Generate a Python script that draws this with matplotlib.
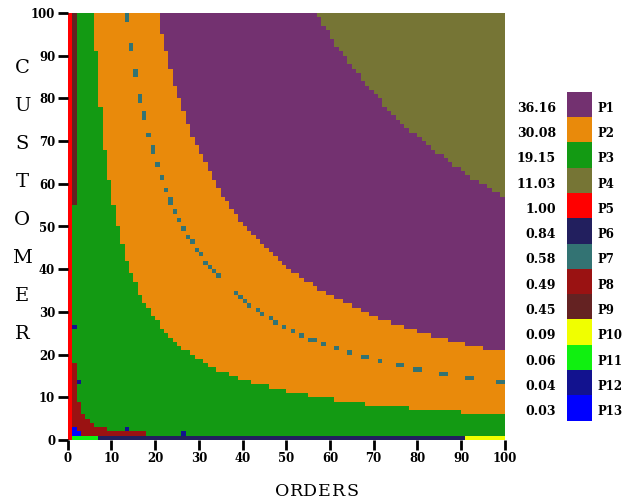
# -*- coding: utf-8 -*-
"""Mapa de planos por ORDERS x CUSTOMER"""

import numpy as np
import matplotlib
matplotlib.use("Agg")
import matplotlib.pyplot as plt
from matplotlib.colors import ListedColormap, BoundaryNorm

# =====================================================
# DADOS
# =====================================================

PLANS = ["P1", "P2", "P3", "P4", "P5", "P6", "P7",
         "P8", "P9", "P10", "P11", "P12", "P13"]
PLAN_VALUES = ["36.16", "30.08", "19.15", "11.03", "1.00", "0.84", "0.58",
               "0.49", "0.45", "0.09", "0.06", "0.04", "0.03"]
PLAN_COLORS = ["#733170", "#E98A0B", "#139A13", "#767535", "#FF0000",
               "#221F5E", "#337373", "#9A1212", "#642222", "#F0FF00",
               "#10F010", "#12128F", "#0000FF"]

X_TICKS = list(range(0, 101, 10))
Y_TICKS = list(range(0, 101, 10))

# P3 -> P2 : coluna inicial e linha onde o P2 comeca
P2_START_COLS = [6, 7, 8, 9, 10, 11, 12, 13, 14, 15, 16, 17, 18, 19, 20,
                 21, 22, 23, 24, 25, 26, 28, 29, 31, 32, 34, 37, 39, 42,
                 46, 50, 55, 61, 68, 78, 90]
P2_START_ROWS = [91, 78, 68, 61, 55, 50, 46, 42, 39, 37, 34, 32, 31, 29, 28,
                 26, 25, 24, 23, 22, 21, 20, 19, 18, 17, 16, 15, 14, 13,
                 12, 11, 10, 9, 8, 7, 6]

# P2 -> P1
P1_START_COLS = [21, 22, 23, 24, 25, 26, 27, 28, 29, 30, 31, 32, 33, 34, 35,
                 36, 37, 38, 39, 40, 41, 42, 43, 44, 45, 46, 47, 48, 49, 50,
                 51, 53, 54, 56, 57, 59, 61, 63, 65, 67, 69, 71, 74, 77, 80,
                 83, 87, 91, 95]
P1_START_ROWS = [95, 91, 87, 83, 80, 77, 74, 71, 69, 67, 65, 63, 61, 59, 57,
                 56, 54, 53, 51, 50, 49, 48, 47, 46, 45, 44, 43, 42, 41, 40,
                 39, 38, 37, 36, 35, 34, 33, 32, 31, 30, 29, 28, 27, 26, 25,
                 24, 23, 22, 21]

# P1 -> P4
P4_START_COLS = [57, 58, 59, 60, 61, 62, 63, 64, 65, 66, 67, 68, 69, 70, 71,
                 72, 73, 74, 75, 76, 77, 78, 80, 81, 82, 83, 84, 86, 87, 88,
                 90, 91, 92, 94, 96, 97, 99]
P4_START_ROWS = [99, 97, 96, 94, 92, 91, 90, 88, 87, 86, 84, 83, 82, 81, 80,
                 78, 77, 76, 75, 74, 73, 72, 71, 70, 69, 68, 67, 66, 65, 64,
                 63, 62, 61, 60, 59, 58, 57]

# celulas isoladas do P7
P7_COLS = [13, 13, 14, 14, 15, 15, 16, 16, 17, 17, 18, 19, 19, 20, 21, 22,
           23, 23, 24, 25, 26, 27, 28, 29, 30, 31, 32, 33, 34, 38, 39, 40,
           41, 43, 44, 46, 47, 49, 51, 53, 55, 56, 58, 61, 64, 67, 68, 71,
           75, 76, 79, 80, 85, 86, 91, 92, 98, 99]
P7_ROWS = [98, 99, 91, 92, 85, 86, 79, 80, 75, 76, 71, 67, 68, 64, 61, 58,
           55, 56, 53, 51, 49, 47, 46, 44, 43, 41, 40, 39, 38, 34, 33, 32,
           31, 30, 29, 28, 27, 26, 25, 24, 23, 23, 22, 21, 20, 19, 19, 18,
           17, 17, 16, 16, 15, 15, 14, 14, 13, 13]

# coluna 1: P9 a partir desta linha
P9_FROM_ROW = 55

# P8 (colunas 1..17): linha limite superior
P8_TOP_ROWS = [18, 9, 6, 5, 4, 3, 3, 3, 2, 2, 2, 2, 2, 2, 2, 2, 2]

P12_COLS = [1, 2, 13, 26]
P12_ROWS = [26, 13, 2, 1]
P13_COLS = [1, 1, 2]
P13_ROWS = [1, 2, 1]

# linha 0
BOTTOM_COLS = [1, 7, 91]
BOTTOM_PLANS = ["P11", "P6", "P10"]

Y_LABEL = "CUSTOMER"
X_LABEL = "ORDERS"

N = 100
FONTE = "DejaVu Serif"


# =====================================================
# FUNÇÕES
# =====================================================

def degraus(cols, rows, n=N):
    """Limite por coluna a partir de listas de degraus."""
    limite = np.full(n, 10 * n)
    for i, c in enumerate(cols):
        fim = cols[i + 1] if i + 1 < len(cols) else n
        limite[c:fim] = rows[i]
    return limite


def montar_grade():
    idx = {p: i for i, p in enumerate(PLANS)}
    grade = np.full((N, N), idx["P3"])
    linhas = np.arange(N)[:, None]

    for cols, rows, plano in [(P2_START_COLS, P2_START_ROWS, "P2"),
                              (P1_START_COLS, P1_START_ROWS, "P1"),
                              (P4_START_COLS, P4_START_ROWS, "P4")]:
        limite = degraus(cols, rows)
        grade[linhas >= limite[None, :]] = idx[plano]

    grade[P7_ROWS, P7_COLS] = idx["P7"]
    grade[P9_FROM_ROW:, 1] = idx["P9"]

    for c, topo in enumerate(P8_TOP_ROWS, start=1):
        grade[1:topo, c] = idx["P8"]

    grade[P12_ROWS, P12_COLS] = idx["P12"]
    grade[P13_ROWS, P13_COLS] = idx["P13"]

    for i, c in enumerate(BOTTOM_COLS):
        fim = BOTTOM_COLS[i + 1] if i + 1 < len(BOTTOM_COLS) else N
        grade[0, c:fim] = idx[BOTTOM_PLANS[i]]

    grade[:, 0] = idx["P5"]
    return grade


def main():
    cmap = ListedColormap(PLAN_COLORS)
    norm = BoundaryNorm(np.arange(len(PLANS) + 1) - 0.5, cmap.N)

    fig = plt.figure(figsize=(6.24, 5.01), dpi=100)
    ax = fig.add_axes([67.8 / 624, 1 - 440 / 501, 437 / 624, 427 / 501])

    grade = montar_grade()
    ax.pcolormesh(np.arange(N + 1), np.arange(N + 1), grade,
                  cmap=cmap, norm=norm)

    ax.set_xlim(0, N)
    ax.set_ylim(0, N)
    for s in ax.spines.values():
        s.set_visible(False)
    ax.set_xticks(X_TICKS)
    ax.set_yticks(Y_TICKS)
    ax.tick_params(direction="out", length=7, width=2, pad=2,
                   color="black")
    for lab in ax.get_xticklabels() + ax.get_yticklabels():
        lab.set_fontfamily(FONTE)
        lab.set_fontweight("bold")
        lab.set_fontsize(8.5)

    # ORDERS com letras espaçadas (fonte monoespaçada no original)
    for i, letra in enumerate(X_LABEL):
        fig.text((282 + 14.2 * i) / 624, 1 - 492 / 501, letra, family=FONTE,
                 fontsize=12.5, ha="center", va="center")
    for i, letra in enumerate(Y_LABEL):
        fig.text(22 / 624, 1 - (68 + 38 * i) / 501, letra, family=FONTE,
                 fontsize=14, ha="center", va="center")

    # legenda em barra
    cb = fig.add_axes([566.7 / 624, 1 - 420.7 / 501, 25.6 / 624, 329 / 501])
    cb.pcolormesh([0, 1], np.arange(len(PLANS) + 1),
                  np.arange(len(PLANS))[:, None], cmap=cmap, norm=norm)
    cb.set_xlim(0, 1)
    cb.set_ylim(len(PLANS), 0)
    cb.axis("off")
    trans = cb.get_yaxis_transform()
    for i, (plano, valor) in enumerate(zip(PLANS, PLAN_VALUES)):
        cb.text(-0.42, i + 0.65, valor, transform=trans, ha="right",
                va="center", family=FONTE, fontweight="bold", fontsize=9)
        cb.text(1.22, i + 0.65, plano, transform=trans, ha="left",
                va="center", family=FONTE, fontweight="bold", fontsize=8.5)

    fig.savefig("out.png", dpi=100)


if __name__ == "__main__":
    main()
